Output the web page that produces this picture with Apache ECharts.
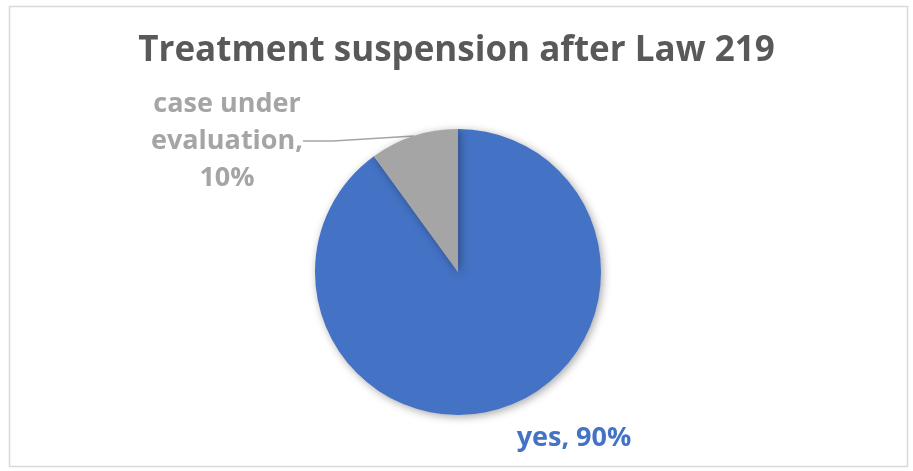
<!DOCTYPE html>
<html>
<head>
<meta charset="utf-8">
<script src="https://cdn.jsdelivr.net/npm/echarts@6/dist/echarts.min.js"></script>
<style>
html,body{margin:0;padding:0;background:#fff;}
#chart{width:913px;height:471px;}
</style>
</head>
<body>
<div id="chart"></div>
<script>
const titleText = 'Treatment suspension after Law 219';
const categories = ['yes', 'case under evaluation'];
const values = [90, 10];
const colors = ['#4472C4', '#A5A5A5'];

const chart = echarts.init(document.getElementById('chart'), null, {renderer: 'canvas'});
const FONT = '"Open Sans", Lato, sans-serif';

chart.setOption({
  animation: false,
  title: {
    text: titleText,
    left: 'center',
    top: 29,
    textStyle: {fontFamily: FONT, fontWeight: 'bold', fontSize: 35, color: '#595959'}
  },
  graphic: [{
    type: 'rect',
    shape: {x: 9.5, y: 6.5, width: 898, height: 460},
    style: {fill: 'none', stroke: '#D9D9D9', lineWidth: 1.5},
    silent: true
  }],
  series: [{
    type: 'pie',
    center: [458, 272],
    radius: [0, 143],
    startAngle: 90,
    clockwise: true,
    data: categories.map((c, i) => ({
      name: c,
      value: values[i],
      itemStyle: {color: colors[i]},
      label: {color: colors[i]},
      labelLine: {show: i === 1}
    })),
    itemStyle: {shadowBlur: 8, shadowColor: 'rgba(0,0,0,0.35)', shadowOffsetX: 2, shadowOffsetY: 2},
    label: {
      show: true,
      fontFamily: FONT,
      fontWeight: 'bold',
      fontSize: 27,
      lineHeight: 37,
      align: 'center',
      formatter: function (p) {
        if (p.dataIndex === 1) {
          return 'case under\nevaluation,\n' + p.percent + '%';
        }
        return p.name + ', ' + p.percent + '%';
      }
    },
    labelLine: {
      show: true,
      lineStyle: {color: '#A5A5A5', width: 1.5}
    },
    labelLayout: function (params) {
      if (params.dataIndex === 0) {
        return {x: 574, y: 438, align: 'center', verticalAlign: 'middle'};
      }
      return {x: 227, y: 141, align: 'center', verticalAlign: 'middle'};
    }
  }]
});
</script>
</body>
</html>
